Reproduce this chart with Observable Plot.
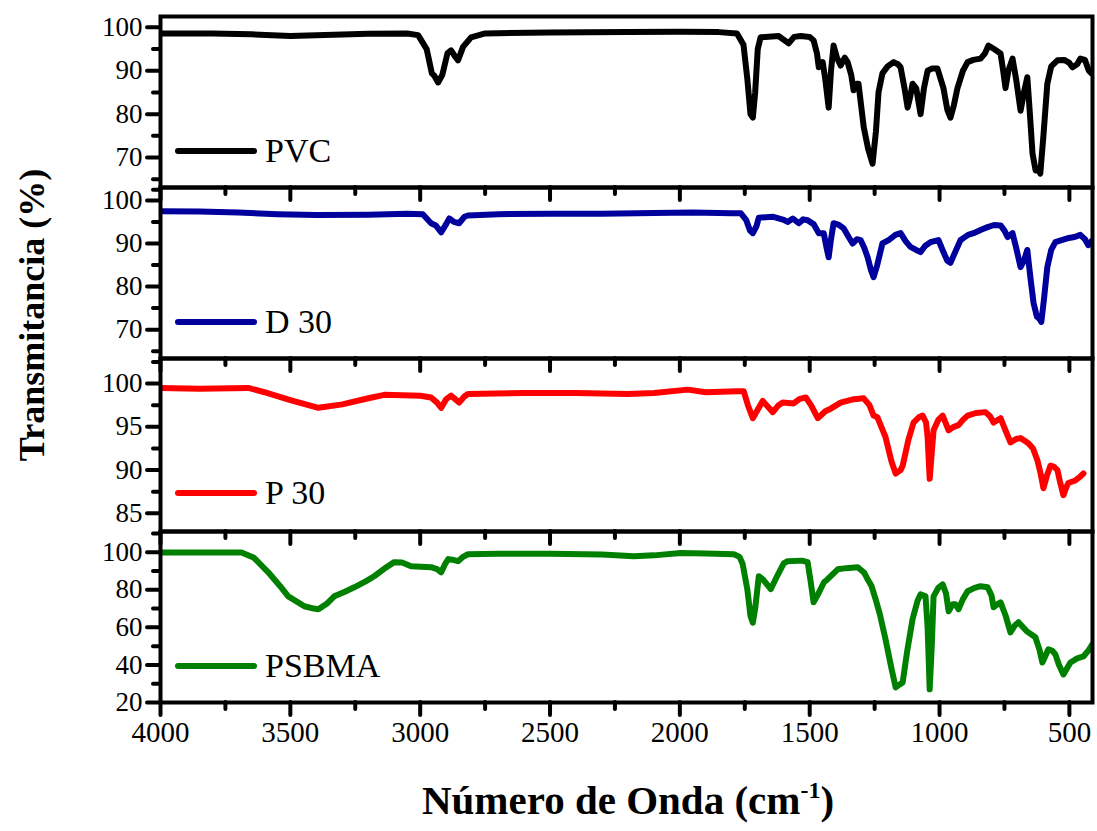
<!DOCTYPE html>
<html>
<head>
<meta charset="utf-8">
<script src="https://cdn.jsdelivr.net/npm/d3@7"></script>
<script src="https://cdn.jsdelivr.net/npm/@observablehq/plot@0.6"></script>
<style>
  html, body { margin: 0; padding: 0; background: #fff; }
  #wrap { position: relative; width: 1097px; height: 831px; background: #fff; overflow: hidden; font-family: "Liberation Serif", "Times New Roman", serif; }
  .panel { position: absolute; left: 0; }
  .panel svg { overflow: visible; }
  .panel svg text { font-family: "Liberation Serif", serif !important; }
  .legline { position: absolute; height: 6px; border-radius: 3px; }
  .legtext { position: absolute; font-size: 34px; line-height: 34px; color: #000; white-space: nowrap; }
  #ytitle { position: absolute; font-weight: bold; font-size: 36px; white-space: nowrap; transform: translate(-50%, -50%) rotate(-90deg); left: 32px; top: 315px; }
  #xtitle { position: absolute; font-weight: bold; font-size: 41px; white-space: nowrap; transform: translate(-50%, -50%); left: 628px; top: 800px; }
  #xtitle sup { font-size: 24px; vertical-align: 16px; line-height: 0; }
</style>
</head>
<body>
<div id="wrap"></div>
<script>
// ---- Data (wavenumber cm^-1, transmittance %) ----
const seriesNames = ["PVC", "D 30", "P 30", "PSBMA"];
const seriesColors = ["#000000", "#00009c", "#ff0000", "#008000"];

const pvc = [[4000,98.6],[3800,98.6],[3650,98.4],[3500,98.0],[3400,98.2],[3200,98.5],[3050,98.6],[3008,98.2],[2975,95],[2955,89.4],[2945,88.8],[2931,87.3],[2915,89],[2895,94],[2881,94.7],[2868,93.5],[2854,92.4],[2835,95.5],[2804,97.7],[2750,98.6],[2500,98.8],[2200,98.9],[2000,99.0],[1850,98.9],[1780,98.6],[1755,96],[1740,88],[1728,80],[1719,79.2],[1710,85],[1700,95],[1689,97.7],[1620,98],[1581,96.3],[1560,97.8],[1535,98],[1500,97.8],[1485,97],[1472,94],[1465,90.8],[1450,92],[1440,88],[1427,81.5],[1418,90],[1408,95.8],[1395,93],[1381,91.2],[1365,93],[1354,92],[1340,89],[1331,85.5],[1320,87],[1312,87],[1300,81],[1292,77],[1275,72],[1258,68.6],[1245,76],[1235,85],[1220,89.4],[1200,91],[1177,92],[1160,91.5],[1150,90.8],[1135,86],[1123,81.5],[1113,84],[1104,87],[1090,86],[1073,80],[1060,86],[1046,90],[1030,90.5],[1008,90.5],[985,86],[970,81],[958,79.2],[945,82],[931,86],[910,90],[892,92],[870,92.5],[842,92.8],[825,94],[812,95.8],[790,95],[765,94],[755,90],[746,86],[735,90],[719,92.8],[705,88],[688,80.8],[675,85],[662,88.5],[652,80],[642,70.9],[630,67],[620,67.5],[612,66.3],[600,75],[585,87],[570,91],[546,92.4],[520,92.5],[500,91.8],[488,90.8],[470,91.5],[458,92.8],[440,92.5],[425,90],[415,89.4]];

const d30 = [[4000,97.5],[3850,97.4],[3700,97.2],[3550,96.8],[3400,96.6],[3200,96.7],[3050,96.9],[2990,96.8],[2958,94.7],[2940,94.2],[2919,92.6],[2900,94.5],[2888,95.8],[2870,95],[2850,94.7],[2830,96.2],[2816,96.5],[2700,96.8],[2500,96.9],[2300,96.9],[2100,97.1],[1950,97.2],[1800,97],[1765,97],[1745,95.5],[1730,93],[1719,92.4],[1705,94],[1696,96],[1640,96.2],[1600,95.5],[1585,95],[1565,95.8],[1542,94.7],[1525,95.6],[1508,95.4],[1485,94.5],[1465,92.4],[1446,92.4],[1435,89],[1427,86.8],[1418,91],[1408,94.7],[1390,94.4],[1369,93.5],[1350,91.5],[1335,90],[1318,91],[1304,90.8],[1290,89],[1277,86.8],[1265,84],[1254,82.2],[1240,85],[1220,90],[1196,90.8],[1170,92],[1150,92.4],[1130,90.5],[1112,89.2],[1090,88.5],[1073,88],[1055,89.5],[1035,90.3],[1004,90.8],[985,88],[970,86],[958,85.5],[940,88],[919,90.8],[890,92],[869,92.4],[840,93.2],[815,93.8],[790,94.3],[765,94.2],[750,93],[738,91.5],[719,92.4],[705,89],[688,84.5],[675,86],[662,88.5],[650,82],[638,76.2],[625,73],[615,72.5],[608,71.8],[598,77],[585,84.5],[570,88.5],[554,90.3],[530,90.8],[508,91.2],[480,91.5],[458,92],[440,91],[427,89.6],[411,90.8]];

const p30 = [[4000,99.5],[3850,99.4],[3662,99.5],[3600,99.0],[3500,98.1],[3392,97.2],[3300,97.6],[3200,98.3],[3138,98.7],[3000,98.6],[2958,98.4],[2935,97.8],[2919,97.2],[2900,98.2],[2881,98.6],[2865,98.2],[2850,97.8],[2830,98.5],[2816,98.8],[2600,98.9],[2400,98.9],[2200,98.8],[2100,98.9],[1969,99.3],[1900,99.0],[1780,99.1],[1754,99.1],[1738,97.5],[1719,96.0],[1700,97.0],[1681,98],[1660,97.3],[1642,96.7],[1620,97.5],[1604,97.8],[1562,97.7],[1540,98.2],[1515,98.4],[1495,97.5],[1469,96.0],[1440,96.8],[1419,97.1],[1381,97.8],[1330,98.2],[1292,98.3],[1270,97.5],[1254,96.3],[1239,96.1],[1208,93.8],[1185,91],[1169,89.6],[1150,90],[1142,90.5],[1120,93.5],[1100,95.5],[1080,96.1],[1065,96.3],[1052,95.5],[1046,93.8],[1038,89],[1030,92],[1023,94.6],[1005,95.8],[988,96.3],[965,94.6],[945,95],[927,95.2],[910,95.8],[892,96.3],[860,96.6],[823,96.7],[805,96.2],[792,95.5],[765,96],[745,94.5],[727,93.2],[705,93.6],[688,93.7],[658,93.1],[640,92.5],[623,91.1],[610,89.5],[600,87.9],[585,89.5],[573,90.5],[560,90.4],[546,90],[535,88.5],[523,87.1],[512,88],[504,88.5],[477,88.8],[460,89.2],[446,89.6]];

const psbma = [[4000,99.8],[3850,99.8],[3688,99.8],[3640,97],[3585,89.3],[3540,82],[3508,76.5],[3446,71.2],[3410,70],[3392,69.6],[3360,72.5],[3331,76.5],[3290,79],[3254,81.3],[3210,84.5],[3177,87.2],[3130,92],[3100,94.7],[3070,94.5],[3035,92.5],[2958,92],[2935,91],[2919,89.3],[2905,93.5],[2892,96.3],[2870,95.8],[2854,95.2],[2835,97.5],[2816,98.9],[2700,99.2],[2500,99.2],[2300,98.7],[2177,97.8],[2100,98.3],[1996,99.6],[1900,99.3],[1792,98.9],[1770,97.5],[1758,93.6],[1740,80],[1728,66],[1719,62.5],[1710,70],[1696,87.2],[1680,85.5],[1650,80.3],[1630,86],[1600,94],[1585,95.2],[1530,95.5],[1508,94.7],[1497,85],[1485,73.3],[1470,77],[1445,84],[1431,85.6],[1392,90.9],[1360,91.5],[1315,92],[1290,89],[1277,85.6],[1262,82],[1246,74.9],[1230,67],[1208,53.6],[1185,38],[1169,28],[1155,29.5],[1142,30.7],[1125,47],[1104,64.3],[1085,74],[1073,77.6],[1054,76.5],[1046,60],[1038,27],[1030,50],[1023,76.5],[1005,81],[988,82.9],[975,78],[965,68.5],[950,72.3],[939,72.3],[927,69.6],[910,75],[892,79.2],[865,81],[842,81.9],[815,81.3],[800,77],[792,70.7],[780,72],[765,73.3],[745,66],[727,57.3],[710,61],[696,62.7],[665,58],[631,54.7],[615,48],[604,41.3],[590,45.5],[581,48.3],[565,47.5],[554,45.6],[540,40],[523,34.9],[510,38],[496,41.3],[470,43.5],[446,44.5],[425,48],[411,51]];

const xDomain = [4000, 411];
const xMajorTicks = [4000, 3500, 3000, 2500, 2000, 1500, 1000, 500];
const xMinorTicks = [3750, 3250, 2750, 2250, 1750, 1250, 750];

const yDomains = [[63.1, 102.5], [63.3, 103], [82.9, 102.9], [20, 111]];
const yMajorTicks = [[70, 80, 90, 100], [70, 80, 90, 100], [85, 90, 95, 100], [20, 40, 60, 80, 100]];
const yMinorTicks = [[65, 75, 85, 95], [65, 75, 85, 95, 102.5], [87.5, 92.5, 97.5, 102.5], [30, 50, 70, 90, 110]];

const panelTops = [16, 187, 358, 531];
const panelBottoms = [187, 358, 531, 702];
const allData = [pvc, d30, p30, psbma];
const serif = "Liberation Serif";

// ---- Build ----
const wrap = document.getElementById("wrap");

allData.forEach((raw, i) => {
  const data = raw.map(([w, t]) => ({w, t}));
  const last = i === allData.length - 1;
  const h = panelBottoms[i] - panelTops[i];
  const mb = last ? 60 : 0;
  const chart = Plot.plot({
    width: 1097,
    height: h + mb,
    marginLeft: 160,
    marginRight: 5,
    marginTop: 0,
    marginBottom: mb,
    style: "background: transparent; overflow: visible; font-family: 'Liberation Serif', serif; color: #000;",
    x: {domain: xDomain},
    y: {domain: yDomains[i]},
    marks: [
      Plot.line(data, {x: "w", y: "t", stroke: seriesColors[i], strokeWidth: 6, strokeLinejoin: "round", strokeLinecap: "round", clip: true}),
      Plot.axisY({ticks: yMajorTicks[i], tickSize: 13, strokeWidth: 4, strokeLinecap: "round", tickPadding: 5, fontSize: 27, fontFamily: serif, label: null, tickFormat: d => String(d)}),
      Plot.axisY({ticks: yMinorTicks[i], tickSize: 7, strokeWidth: 4, strokeLinecap: "round", text: null, label: null}),
      Plot.axisX({ticks: xMajorTicks, tickSize: 13, strokeWidth: 4, strokeLinecap: "round", tickPadding: 6, fontSize: 29, fontFamily: serif, label: null, tickFormat: last ? (d => String(d)) : null, text: last ? undefined : null}),
      Plot.axisX({ticks: xMinorTicks, tickSize: 7, strokeWidth: 4, strokeLinecap: "round", text: null, label: null}),
      Plot.frame({stroke: "#000", strokeWidth: 4})
    ]
  });
  const holder = document.createElement("div");
  holder.className = "panel";
  holder.style.top = panelTops[i] + "px";
  holder.appendChild(chart);
  wrap.appendChild(holder);

  // legend entry
  const ly = panelTops[i] + 135;
  const ln = document.createElement("div");
  ln.className = "legline";
  ln.style.left = "175px";
  ln.style.width = "82px";
  ln.style.top = (ly - 3) + "px";
  ln.style.background = seriesColors[i];
  wrap.appendChild(ln);
  const lt = document.createElement("div");
  lt.className = "legtext";
  lt.style.left = "265px";
  lt.style.top = (ly - 17) + "px";
  lt.textContent = seriesNames[i];
  wrap.appendChild(lt);
});

const yt = document.createElement("div");
yt.id = "ytitle";
yt.textContent = "Transmitancia (%)";
wrap.appendChild(yt);

const xt = document.createElement("div");
xt.id = "xtitle";
xt.innerHTML = "Número de Onda (cm<sup>-1</sup>)";
wrap.appendChild(xt);
</script>
</body>
</html>
